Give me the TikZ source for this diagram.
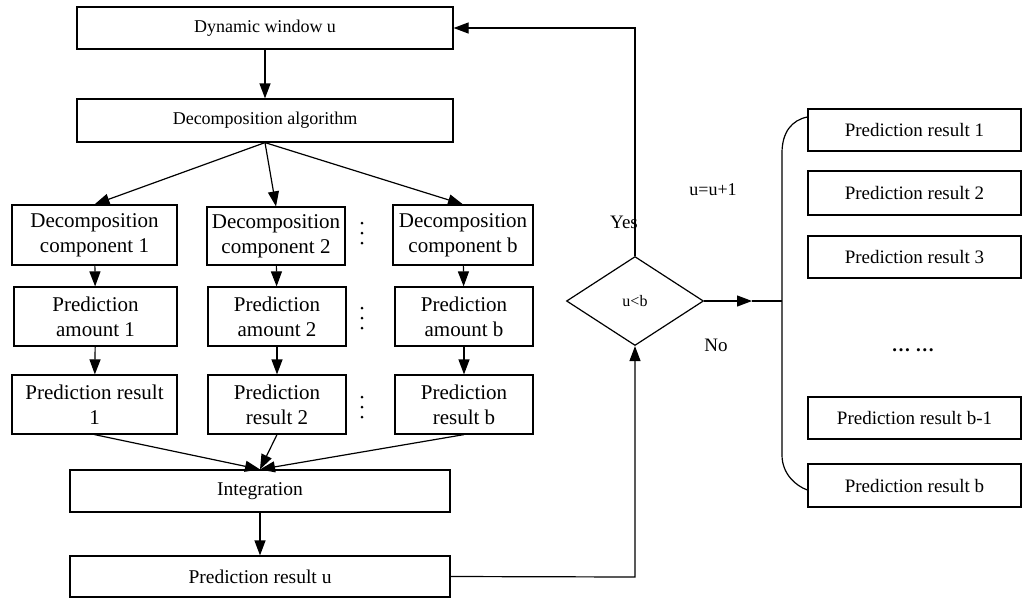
\documentclass[tikz,border=0pt]{standalone}
\usepackage{fontspec}
\setmainfont{Liberation Serif}
\usetikzlibrary{arrows.meta,shapes.geometric}
\begin{document}
\begin{tikzpicture}[x=1pt,y=-1pt,line width=1.2pt,
  box/.style={draw,rectangle,inner sep=0pt,align=center},
  arr/.style={-{Triangle[length=15pt,width=11pt]}},
  ftop/.style={font=\fontsize{18}{21}\selectfont},
  fcomp/.style={font=\fontsize{21}{25}\selectfont},
  fmid/.style={font=\fontsize{19.5}{23}\selectfont},
  fright/.style={font=\fontsize{19}{23}\selectfont},
  lbl/.style={inner sep=0pt},
  dotc/.style={fill,circle,inner sep=0pt,minimum size=3pt}]
\useasboundingbox (0,0) rectangle (1028,598);

% left column
\node[box,ftop,minimum width=376pt,minimum height=42pt] (dyn) at (265,28) {Dynamic window u};
\node[box,ftop,minimum width=376pt,minimum height=43pt] (alg) at (265,120.5) {Decomposition algorithm};

\node[box,fcomp,minimum width=165pt,minimum height=60pt] (c1) at (94.5,235) {Decomposition\\component 1};
\node[box,fcomp,minimum width=138pt,minimum height=58pt] (c2) at (276,236) {Decomposition\\component 2};
\node[box,fcomp,minimum width=140pt,minimum height=60pt] (c3) at (463,235) {Decomposition\\component b};

\node[box,fcomp,minimum width=163pt,minimum height=59pt] (a1) at (95.5,316.5) {Prediction\\amount 1};
\node[box,fcomp,minimum width=138pt,minimum height=59pt] (a2) at (277,316.5) {Prediction\\amount 2};
\node[box,fcomp,minimum width=138pt,minimum height=59pt] (a3) at (464,316.5) {Prediction\\amount b};

\node[box,fcomp,minimum width=165pt,minimum height=59pt] (r1) at (94.5,404.5) {Prediction result\\1};
\node[box,fcomp,minimum width=138pt,minimum height=59pt] (r2) at (277,404.5) {Prediction\\result 2};
\node[box,fcomp,minimum width=138pt,minimum height=59pt] (r3) at (464,404.5) {Prediction\\result b};

\node[box,fmid,minimum width=380pt,minimum height=42pt] (int) at (260,491) {Integration};
\node[box,fmid,minimum width=380pt,minimum height=41pt] (pru) at (260,576.5) {Prediction result u};

% vertical dots
\foreach \yy in {223,233,243, 308,318,328, 397,407,417}
  \node[dotc] at (362,\yy) {};

% decision
\node[draw,diamond,inner sep=0pt,minimum width=137pt,minimum height=89pt,
      font=\fontsize{16}{18}\selectfont] (dia) at (635,301) {u<b};

% right column
\node[box,fright,minimum width=213pt,minimum height=42pt] (p1) at (914.5,130) {Prediction result 1};
\node[box,fright,minimum width=213pt,minimum height=44pt] (p2) at (914.5,193) {Prediction result 2};
\node[box,fright,minimum width=213pt,minimum height=42pt] (p3) at (914.5,257) {Prediction result 3};
\node[lbl,font=\fontsize{19}{23}\selectfont\bfseries] (pd) at (913,350) {\dots\ \dots};
\node[box,fright,minimum width=213pt,minimum height=42pt] (pb1) at (914.5,418) {Prediction result b-1};
\node[box,fright,minimum width=213pt,minimum height=43pt] (pb) at (914.5,485.5) {Prediction result b};

% labels
\node[lbl,font=\fontsize{18}{21}\selectfont] (inc) at (713,190) {u=u+1};
\node[lbl,font=\fontsize{19}{22}\selectfont] (yes) at (624,222) {Yes};
\node[lbl,font=\fontsize{19}{22}\selectfont] (no) at (716,345) {No};

% connectors
\draw[arr] (dyn) -- (alg);
\draw[arr] (alg.south) -- (c1.north);
\draw[arr] (alg.south) -- (c2.north);
\draw[arr] (alg.south) -- (c3.north);
\draw[arr] (c1) -- (a1);
\draw[arr] (c2) -- (a2);
\draw[arr] (c3) -- (a3);
\draw[arr] (a1) -- (r1);
\draw[arr] (a2) -- (r2);
\draw[arr] (a3) -- (r3);
\draw[arr] (r1.south) -- (int.north);
\draw[arr] (r2.south) -- (int.north);
\draw[arr] (r3.south) -- (int.north);
\draw[arr] (int) -- (pru);

\coordinate (lb) at (635,577);
\draw[arr] (pru.east) -- (lb) -- (dia.south);
\coordinate (lt) at (635,28);
\draw[arr] (dia.north) -- (lt) -- (dyn.east);

\coordinate (tip) at (752,301);
\coordinate (j) at (782,301);
\coordinate (bt) at (782,153);
\coordinate (bb) at (782,455);
\draw[arr] (dia.east) -- (tip);
\draw (tip) -- (j);
\draw ([yshift=13pt]p1.west) .. controls (792,120) and (782,132) .. (bt) -- (bb)
      .. controls (782,474) and (796,486) .. ([yshift=-4.5pt]pb.west);
\end{tikzpicture}
\end{document}
